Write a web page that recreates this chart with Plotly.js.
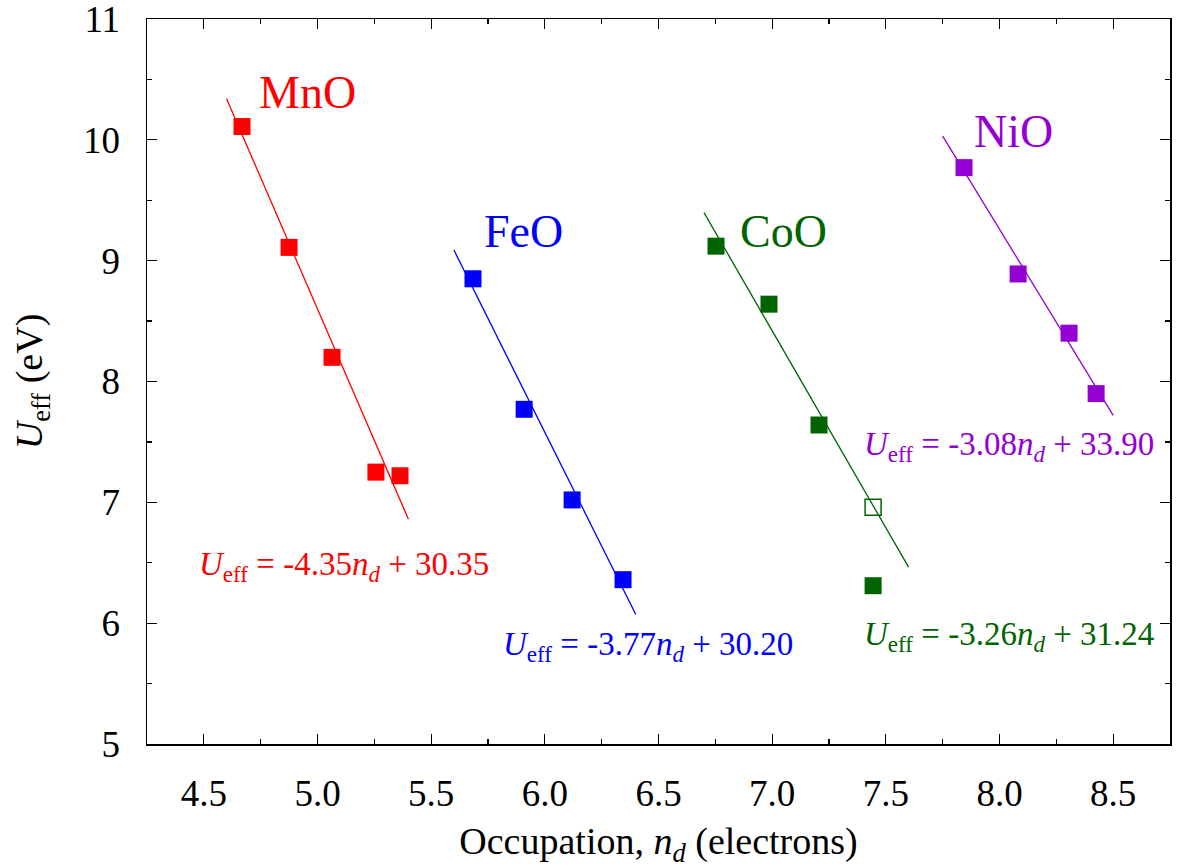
<!DOCTYPE html>
<html>
<head>
<meta charset="utf-8">
<script src="https://cdn.plot.ly/plotly-3.0.1.min.js"></script>
<style>html,body{margin:0;padding:0;background:#fff;}#chart{width:1177px;height:868px;}</style>
</head>
<body>
<div id="chart"></div>
<script>
// Data
const oxides = ["MnO", "FeO", "CoO", "NiO"];
const colors = ["#ff0000", "#0000ff", "#006400", "#9400d3"];

const mnoX = [4.668, 4.875, 5.064, 5.257, 5.363];
const mnoY = [10.11, 9.11, 8.20, 7.25, 7.22];
const feoX = [5.684, 5.909, 6.120, 6.344];
const feoY = [8.85, 7.77, 7.02, 6.36];
const cooX = [6.753, 6.986, 7.206, 7.444];
const cooY = [9.12, 8.64, 7.64, 6.31];
const cooOpenX = [7.444];
const cooOpenY = [6.96];
const nioX = [7.844, 8.082, 8.306, 8.425];
const nioY = [9.77, 8.89, 8.40, 7.90];

// Linear fits shown in the chart: slope, intercept, x-span of the drawn line
const fitSlope = [-4.35, -3.77, -3.26, -3.08];
const fitIntercept = [30.35, 30.20, 31.24, 33.90];
const fitXStart = [4.6, 5.6, 6.7, 7.75];
const fitXEnd = [5.4, 6.4, 7.6, 8.5];

const labelText = ["MnO", "FeO", "CoO", "NiO"];

const serif = "Liberation Serif";

const pts = [[mnoX, mnoY], [feoX, feoY], [cooX, cooY], [nioX, nioY]];
const traces = [];
for (let i = 0; i < 4; i++) {
  const xs = [fitXStart[i], fitXEnd[i]];
  traces.push({
    x: xs, y: xs.map(v => fitSlope[i] * v + fitIntercept[i]),
    mode: "lines", line: {color: colors[i], width: 1.3},
    showlegend: false, hoverinfo: "skip"
  });
  traces.push({
    x: pts[i][0], y: pts[i][1], mode: "markers",
    marker: {symbol: "square", size: 17, color: colors[i], line: {width: 0}},
    showlegend: false, name: oxides[i]
  });
}
traces.push({
  x: cooOpenX, y: cooOpenY, mode: "markers",
  marker: {symbol: "square-open", size: 16, color: colors[2], line: {width: 1.5, color: colors[2]}},
  showlegend: false
});

function eq(i) {
  const s = fitSlope[i].toFixed(2), b = fitIntercept[i].toFixed(2);
  return "<i>U</i><sub>eff</sub> = " + s + "<i>n</i><sub><i>d</i></sub> + " + b;
}

const nameLabelPos = [[4.958, 10.39], [5.904, 9.24], [7.048, 9.24], [8.06, 10.07]];
const eqPos = [[4.468, 6.47], [5.808, 5.81], [7.395, 5.89], [7.395, 7.46]];

const annotations = [];
for (let i = 0; i < 4; i++) {
  annotations.push({
    x: nameLabelPos[i][0], y: nameLabelPos[i][1], text: labelText[i],
    showarrow: false, xanchor: "center", yanchor: "middle",
    font: {family: serif, size: 46, color: colors[i]}
  });
  annotations.push({
    x: eqPos[i][0], y: eqPos[i][1], text: eq(i),
    showarrow: false, xanchor: "left", yanchor: "middle",
    font: {family: serif, size: 33, color: colors[i]}
  });
}

const axisCommon = {
  showgrid: false, zeroline: false, showline: true, linecolor: "#000", linewidth: 1.5,
  mirror: "ticks", ticks: "inside", ticklen: 10, tickwidth: 1.3, tickcolor: "#000",
  ticklabeloverflow: "allow",
  tickfont: {family: serif, size: 37, color: "#000"}
};

const layout = {
  width: 1177, height: 868,
  margin: {l: 147, r: 7, t: 19, b: 124},
  paper_bgcolor: "#fff", plot_bgcolor: "#fff",
  font: {family: serif},
  xaxis: Object.assign({}, axisCommon, {
    range: [4.25, 8.75], tickvals: [4.5, 5.0, 5.5, 6.0, 6.5, 7.0, 7.5, 8.0, 8.5],
    ticktext: ["4.5", "5.0", "5.5", "6.0", "6.5", "7.0", "7.5", "8.0", "8.5"],
    minor: {dtick: 0.25, tick0: 4.25, ticks: "inside", ticklen: 5, tickwidth: 1.2, tickcolor: "#000"},
    ticklabelstandoff: 16,
    title: {text: "Occupation, <i>n</i><sub><i>d</i></sub> (electrons)", font: {family: serif, size: 38, color: "#000"}, standoff: 18}
  }),
  yaxis: Object.assign({}, axisCommon, {
    range: [5, 11], tickvals: [5, 6, 7, 8, 9, 10, 11],
    minor: {dtick: 0.5, tick0: 5, ticks: "inside", ticklen: 5, tickwidth: 1.2, tickcolor: "#000"},
    ticklabelstandoff: 18,
    title: {text: "<i>U</i><sub>eff</sub> (eV)", font: {family: serif, size: 38, color: "#000"}, standoff: 29}
  }),
  annotations: annotations
};

Plotly.newPlot("chart", traces, layout, {displayModeBar: false, staticPlot: true});
</script>
</body>
</html>
